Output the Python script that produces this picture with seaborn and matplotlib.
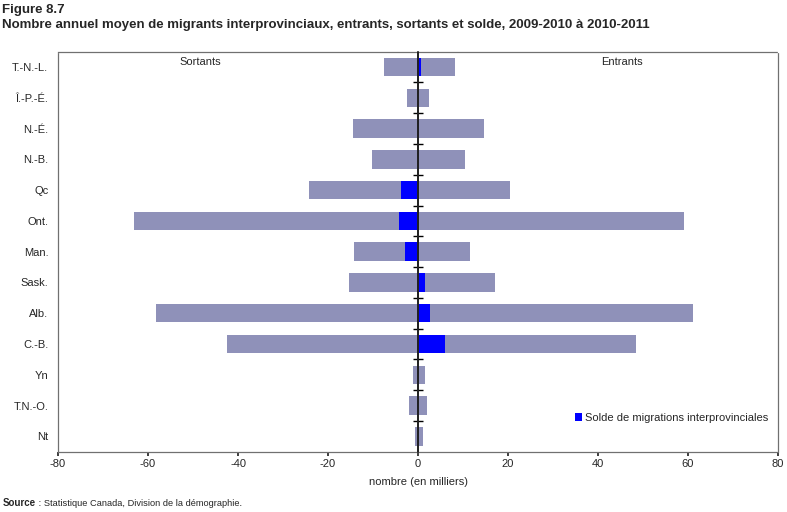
import numpy as np
import pandas as pd
import seaborn as sns
import matplotlib.pyplot as plt

# --- Donnees (milliers) ---
provinces = ["T.-N.-L.", "Î.-P.-É.", "N.-É.", "N.-B.", "Qc", "Ont.", "Man.",
             "Sask.", "Alb.", "C.-B.", "Yn", "T.N.-O.", "Nt"]
sortants = [-7.6, -2.5, -14.5, -10.3, -24.3, -63.2, -14.3, -15.4, -58.3, -42.5, -1.2, -2.1, -0.7]
entrants = [8.3, 2.5, 14.7, 10.5, 20.5, 59.0, 11.5, 17.0, 61.0, 48.5, 1.5, 1.9, 1.0]
solde = [0.7, 0.0, 0.2, 0.2, -3.8, -4.2, -2.8, 1.6, 2.7, 6.0, 0.3, -0.3, 0.3]

df = pd.DataFrame({"prov": provinces, "sortants": sortants,
                   "entrants": entrants, "solde": solde})

# --- Style ---
sns.set_theme(style="white")
plt.rcParams["font.family"] = ["Liberation Sans", "DejaVu Sans"]
plt.rcParams["axes.unicode_minus"] = False

fig = plt.figure(figsize=(7.87, 5.12), dpi=100)
ax = fig.add_axes([0.0737, 0.1178, 0.9149, 0.7812])

gris = "#8F91B9"
opts = dict(orient="h", width=0.6, saturation=1, linewidth=0, ax=ax)
sns.barplot(data=df, x="sortants", y="prov", color=gris, **opts)
sns.barplot(data=df, x="entrants", y="prov", color=gris, **opts)
sns.barplot(data=df, x="solde", y="prov", color="#0000FF",
            label="Solde de migrations interprovinciales", **opts)

xmin, xmax = -80, 80
ax.set_xlim(xmin, xmax)
ax.set_ylim(len(provinces) - 0.5, -0.5)
ax.set_xticks(np.arange(-80, 81, 20))
ax.tick_params(axis="x", labelsize=8, length=3, direction="out", pad=2, bottom=True)
ax.tick_params(axis="y", labelsize=8, length=0, pad=7)
ax.set_ylabel("")
ax.set_xlabel("nombre (en milliers)", fontsize=8, labelpad=6)

for s in ax.spines.values():
    s.set_visible(True)
    s.set_color("#707070")
    s.set_linestyle((0, (1, 1)))
    s.set_linewidth(0.9)

# ligne zero avec traits entre categories
ax.axvline(0, color="black", linewidth=1.3, zorder=5)
zero = ax.secondary_yaxis((0 - xmin) / (xmax - xmin))
zero.set_zorder(6)
zero.set_yticks(np.arange(1, len(provinces)) - 0.5)
zero.set_yticklabels([])
zero.tick_params(axis="y", direction="inout", length=7, width=1.0, color="black")
zero.spines["left"].set_visible(False)

ax.text(0.197, 0.975, "Sortants", transform=ax.transAxes, ha="center", va="center", fontsize=8)
ax.text(0.783, 0.975, "Entrants", transform=ax.transAxes, ha="center", va="center", fontsize=8)

ax.legend(loc="lower right", bbox_to_anchor=(0.992, 0.06), frameon=False, fontsize=8,
          handlelength=0.7, handleheight=0.7, handletextpad=0.2, borderaxespad=0)

fig.text(0.003, 0.992, "Figure 8.7", fontsize=9.5, fontweight="bold", va="top")
fig.text(0.003, 0.962,
         "Nombre annuel moyen de migrants interprovinciaux, entrants, sortants et solde, 2009-2010 à 2010-2011",
         fontsize=9.5, fontweight="bold", va="top")
fig.text(0.003, 0.017, "Source", fontsize=7, fontweight="bold", va="center")
fig.text(0.046, 0.017, " : Statistique Canada, Division de la démographie.", fontsize=6.7, va="center")

plt.savefig("out.png", dpi=100)
plt.close()
